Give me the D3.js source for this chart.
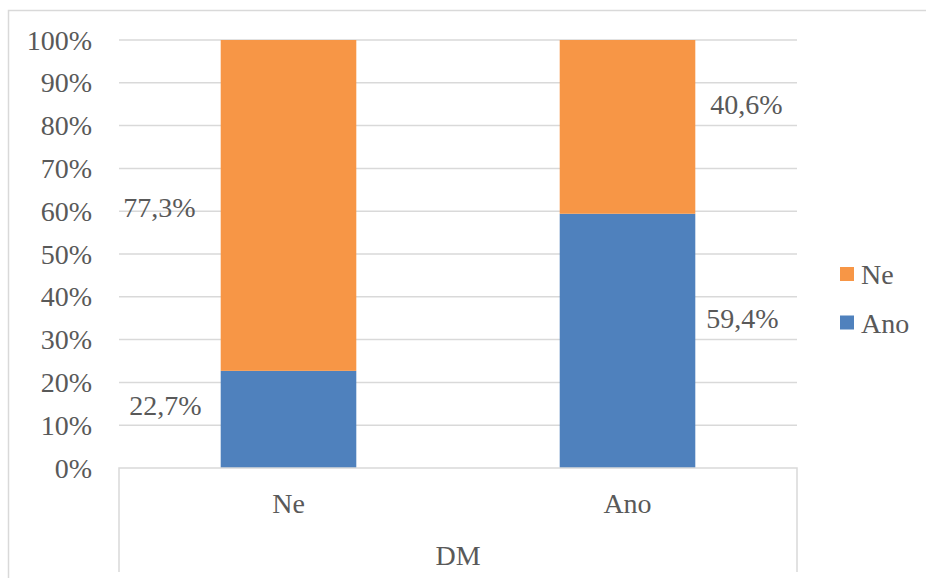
<!DOCTYPE html>
<html>
<head>
<meta charset="utf-8">
<script src="https://cdn.jsdelivr.net/npm/d3@7"></script>
<style>
  html, body { margin: 0; padding: 0; background: #fff; }
  svg { display: block; }
</style>
</head>
<body>
<svg id="chart" width="926" height="578"></svg>
<script>
// DM categories and the share of each answer within them
const categories = ["Ne", "Ano"];
const seriesNames = ["Ano", "Ne"];           // stacked bottom to top
const anoValues = [0.227, 0.594];
const neValues = [0.773, 0.406];
const yTicks = [0, 0.1, 0.2, 0.3, 0.4, 0.5, 0.6, 0.7, 0.8, 0.9, 1.0];
const groupLabel = "DM";
const legendOrder = ["Ne", "Ano"];

const colors = { Ano: "#4F81BD", Ne: "#F79646" };
const fmt = v => (v * 100).toFixed(1).replace(".", ",") + "%";
const pctTick = v => Math.round(v * 100) + "%";

const FONT = '"Liberation Serif", monospace';
const svg = d3.select("#chart");
const W = 926, H = 578;
const plot = { left: 119, right: 797, top: 40, bottom: 468 };
const FS = 28;
const TXT = "#595959";

// shared text styling
const styleText = sel => sel
  .attr("font-size", FS).attr("fill", TXT)
  .style("font-family", FONT);

// chart-area border (open on the right)
svg.append("path")
  .attr("d", `M${W},10.5 H8.5 V${H}`)
  .attr("fill", "none").attr("stroke", "#d9d9d9").attr("stroke-width", 1.5);

const x = d3.scaleBand().domain(categories)
  .range([plot.left, plot.right]).paddingInner(0.6).paddingOuter(0.3);
const y = d3.scaleLinear().domain([0, 1]).range([plot.bottom, plot.top]);

// horizontal gridlines
svg.append("g").selectAll("line").data(yTicks.filter(t => t > 0)).join("line")
  .attr("x1", plot.left).attr("x2", plot.right)
  .attr("y1", d => y(d)).attr("y2", d => y(d))
  .attr("stroke", "#d9d9d9").attr("stroke-width", 1.5);

// y tick labels
svg.append("g").selectAll("text").data(yTicks).join("text")
  .attr("x", 92).attr("y", d => y(d) + 0.34 * FS)
  .attr("text-anchor", "end")
  .call(styleText)
  .text(pctTick);

// stacked data
const rows = categories.map((c, i) => ({ cat: c, Ano: anoValues[i], Ne: neValues[i] }));
const stacked = d3.stack().keys(seriesNames)(rows);

svg.append("g").selectAll("g").data(stacked).join("g")
  .attr("fill", d => colors[d.key])
  .selectAll("rect").data(d => d).join("rect")
  .attr("x", d => x(d.data.cat))
  .attr("width", x.bandwidth())
  .attr("y", d => y(d[1]))
  .attr("height", d => y(d[0]) - y(d[1]));

// category axis with the group bracket
svg.append("path")
  .attr("d", `M${plot.left},572 V${plot.bottom} H${plot.right} V572`)
  .attr("stroke", "#d9d9d9").attr("stroke-width", 1.5).attr("fill", "none");

svg.append("g").selectAll("text").data(categories).join("text")
  .attr("x", d => x(d) + x.bandwidth() / 2)
  .attr("y", 503 + 0.34 * FS)
  .attr("text-anchor", "middle")
  .call(styleText)
  .text(d => d);

svg.append("text")
  .attr("x", (plot.left + plot.right) / 2)
  .attr("y", 555 + 0.34 * FS)
  .attr("text-anchor", "middle")
  .call(styleText)
  .text(groupLabel);

// data labels placed beside each bar segment
const labelPlacement = {
  "Ne|Ano": { side: "left", gap: 19, dy: -14 },
  "Ne|Ne": { side: "left", gap: 25, dy: 2 },
  "Ano|Ano": { side: "right", gap: 11, dy: -22 },
  "Ano|Ne": { side: "right", gap: 15, dy: -22 }
};
const labels = [];
stacked.forEach(s => s.forEach(d => {
  const p = labelPlacement[d.data.cat + "|" + s.key];
  const mid = y((d[0] + d[1]) / 2);
  const x0 = x(d.data.cat);
  labels.push({
    text: fmt(d[1] - d[0]),
    x: p.side === "left" ? x0 - p.gap : x0 + x.bandwidth() + p.gap,
    anchor: p.side === "left" ? "end" : "start",
    y: mid + p.dy
  });
}));
svg.append("g").selectAll("text").data(labels).join("text")
  .attr("x", d => d.x).attr("y", d => d.y + 0.34 * FS)
  .attr("text-anchor", d => d.anchor)
  .call(styleText)
  .text(d => d.text);

// legend
const legendY = { Ne: 274.5, Ano: 323 };
const lg = svg.append("g").selectAll("g").data(legendOrder).join("g")
  .attr("transform", d => `translate(840,${legendY[d]})`);
lg.append("rect").attr("x", 0).attr("y", -7.5).attr("width", 14).attr("height", 14)
  .attr("fill", d => colors[d]);
lg.append("text").attr("x", 21).attr("y", 0.34 * FS)
  .call(styleText)
  .text(d => d);
</script>
</body>
</html>
